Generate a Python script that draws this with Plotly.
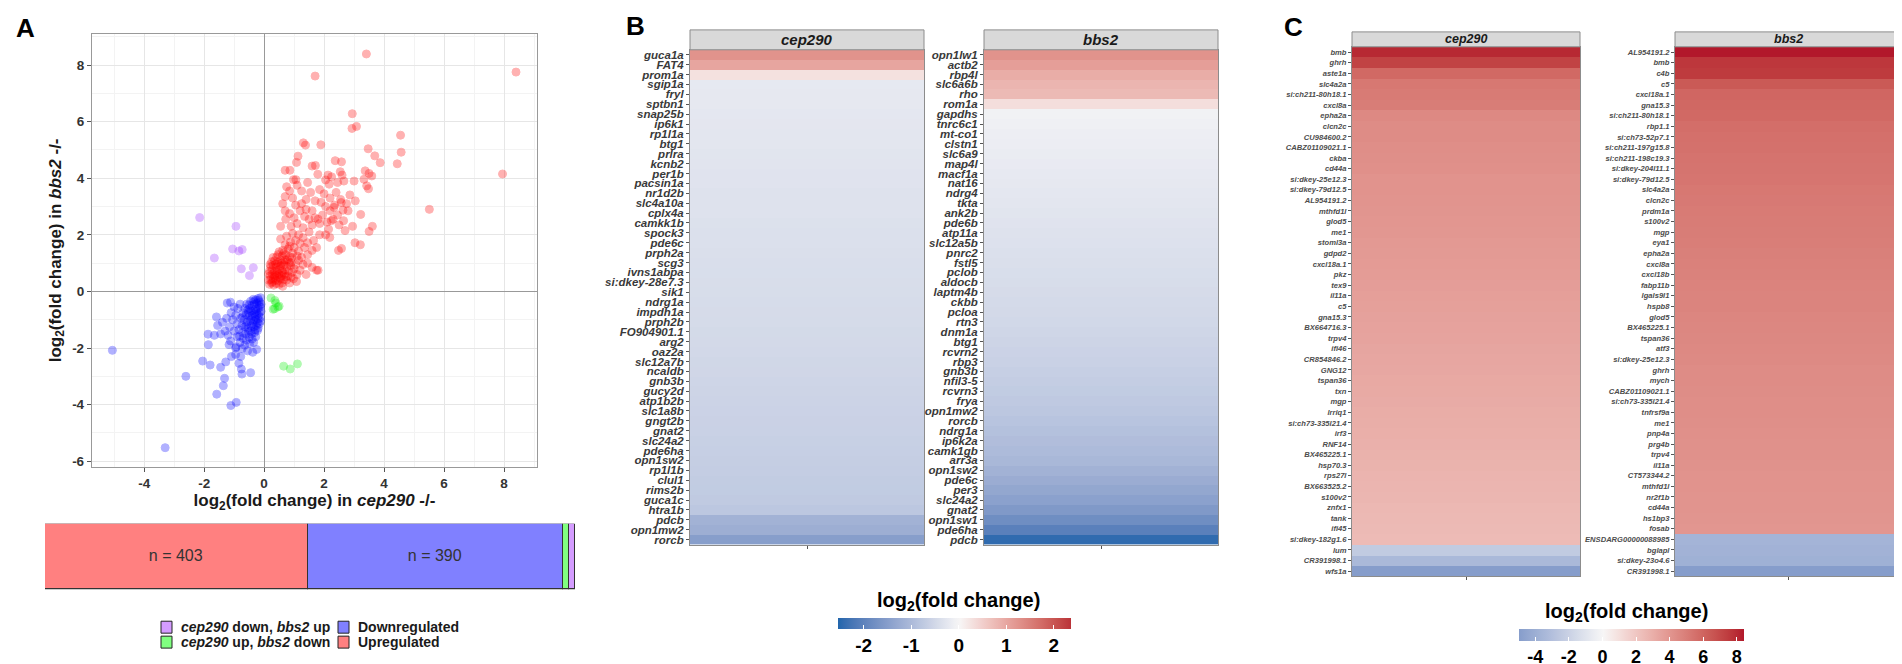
import plotly.graph_objects as go

W, H = 1902, 664
def X(px): return px / W
def Y(py): return 1 - py / H

# ---------------- Panel A data ----------------
up_pts = [
    (0.18,0.25),(0.25,0.30),(0.32,0.22),(0.40,0.28),(0.50,0.25),(0.60,0.30),(0.22,0.42),(0.30,0.45),(0.38,0.40),
    (0.46,0.38),(0.55,0.44),(0.65,0.42),(0.75,0.40),(0.20,0.55),(0.28,0.60),(0.35,0.58),(0.42,0.55),(0.50,0.60),
    (0.58,0.56),(0.68,0.60),(0.80,0.55),(0.90,0.50),(0.18,0.72),(0.26,0.75),(0.34,0.70),(0.43,0.74),(0.52,0.78),
    (0.60,0.72),(0.70,0.76),(0.82,0.72),(0.22,0.88),(0.30,0.92),(0.40,0.86),(0.48,0.95),(0.56,0.90),(0.66,0.94),
    (0.76,0.88),(0.88,0.92),(0.25,1.05),(0.35,1.08),(0.45,1.02),(0.55,1.10),(0.65,1.05),(0.78,1.12),(0.90,1.02),
    (0.30,1.20),(0.42,1.22),(0.60,1.25),(0.72,1.30),(0.85,1.22),(1.00,0.80),(1.05,0.95),(1.10,0.60),(0.98,0.45),
    (1.15,1.10),(0.95,1.35),(0.50,1.40),(0.62,1.45),(0.80,1.50),(1.00,1.55),(1.15,1.42),(1.25,1.20),(1.30,0.95),
    (1.20,0.75),(0.70,1.65),(0.88,1.75),(1.05,1.80),(1.20,1.70),(1.35,1.55),(1.45,1.30),(0.55,1.85),(0.75,1.95),
    (0.95,2.05),(1.15,2.00),(1.30,1.90),(1.40,0.60),(1.45,1.00),(0.62,0.18),(0.85,0.30),(1.08,0.35),(0.15,0.40),
    (0.15,0.62),(0.20,0.95),(0.28,0.35),(0.36,0.50),(0.44,0.66),(0.52,0.48),(0.62,0.66),(0.72,0.52),(0.94,0.68),
    (0.38,0.96),(0.58,1.00),(0.70,1.12),(0.84,1.02),(0.46,1.30),(0.66,1.36),(0.92,1.20),(1.10,1.25),(0.85,1.60),
    (1.60,0.85),(1.75,0.75),
    (0.55,2.30),(0.72,2.55),(0.90,2.30),(1.10,2.40),(1.30,2.25),(1.50,2.10),(1.65,1.80),(1.75,1.55),(1.45,1.72),
    (0.62,3.10),(0.70,2.85),(0.85,3.55),(0.95,3.30),(1.05,3.05),(1.20,2.85),(1.35,2.65),(1.50,2.55),(1.60,2.85),
    (1.70,3.20),(1.55,3.50),(1.40,3.25),(1.25,3.55),(1.10,3.75),(0.75,3.70),(0.70,3.35),(1.60,2.35),(1.80,2.55),
    (1.95,2.70),(2.10,2.45),(2.05,3.00),(1.90,3.15),(2.20,3.30),(2.35,3.05),(2.45,2.70),(2.30,2.55),(2.50,2.35),
    (2.05,2.00),(1.85,2.00),(2.40,3.50),(2.55,3.25),(2.75,3.10),(2.80,2.85),(2.65,2.50),(2.95,2.30),(2.70,2.15),
    (1.60,1.45),(0.85,2.75),(1.00,2.60),(1.25,3.10),(1.85,3.60),(2.00,3.45),(2.20,2.85),(2.15,2.20),(1.70,2.60),
    (1.40,2.90),(0.98,3.95),(1.45,3.85),(2.25,4.05),(2.45,3.85),
    (3.41,8.39),(1.70,7.61),(2.94,6.28),(2.93,5.76),(3.08,5.83),(4.55,5.52),(4.57,4.92),(4.44,4.51),(3.47,5.04),
    (3.69,4.79),(3.87,4.55),(1.31,5.25),(1.38,5.17),(1.89,5.18),(1.13,4.78),(1.08,4.56),(0.70,4.28),(0.86,4.28),
    (1.60,4.43),(1.71,4.45),(2.37,4.62),(2.58,4.58),(3.37,4.26),(3.50,4.17),(3.59,4.08),(3.33,3.96),(3.00,3.90),
    (1.06,3.95),(1.79,4.14),(2.13,4.11),(2.54,4.23),(2.60,4.11),(2.66,3.90),(2.05,3.94),(2.17,3.79),(3.42,3.73),
    (3.48,3.63),(2.86,3.41),(3.04,3.20),(5.51,2.90),(3.22,2.72),(3.61,2.30),(3.50,2.12),(3.03,1.72),(3.21,1.65),
    (2.48,1.45),(2.58,1.52),(1.80,0.75),(2.19,1.91),(1.85,2.40),(2.24,2.50),(2.33,2.97),(2.57,3.14),(2.63,2.87),
    (8.40,7.75),(7.95,4.15),
]
down_pts = [
    (-0.12,-0.22),(-0.20,-0.25),(-0.28,-0.30),(-0.36,-0.28),(-0.45,-0.35),(-0.15,-0.38),(-0.24,-0.42),(-0.32,-0.45),
    (-0.40,-0.50),(-0.50,-0.48),(-0.58,-0.45),(-0.12,-0.55),(-0.20,-0.60),(-0.28,-0.62),(-0.36,-0.66),(-0.44,-0.70),
    (-0.54,-0.65),(-0.64,-0.60),(-0.15,-0.75),(-0.24,-0.80),(-0.32,-0.78),(-0.40,-0.85),(-0.50,-0.88),(-0.60,-0.82),
    (-0.70,-0.75),(-0.12,-0.92),(-0.20,-0.98),(-0.28,-1.00),(-0.36,-1.05),(-0.46,-1.02),(-0.56,-1.08),(-0.66,-1.00),
    (-0.78,-0.95),(-0.16,-1.15),(-0.26,-1.20),(-0.34,-1.25),(-0.44,-1.22),(-0.54,-1.30),(-0.64,-1.25),(-0.74,-1.20),
    (-0.22,-1.38),(-0.32,-1.45),(-0.42,-1.50),(-0.52,-1.42),(-0.62,-1.50),(-0.72,-1.45),(-0.84,-1.35),(-0.28,-1.60),
    (-0.40,-1.68),(-0.50,-1.62),(-0.60,-1.72),(-0.70,-1.65),(-0.82,-1.58),(-0.35,-1.80),(-0.48,-1.85),(-0.65,-1.90),
    (-0.80,-1.80),(-0.90,-1.15),(-0.95,-0.85),(-0.88,-0.60),(-0.80,-0.45),(-1.00,-0.55),(-1.10,-0.75),(-1.05,-1.00),
    (-1.15,-1.25),(-1.00,-1.40),(-0.90,-1.60),(-1.20,-1.55),(-0.25,-2.05),(-0.38,-2.15),(-0.55,-2.10),(-0.18,-0.32),
    (-0.10,-0.45),(-0.10,-0.70),(-0.12,-1.05),(-0.30,-0.90),(-0.38,-1.15),(-0.48,-0.60),(-0.20,-1.30),(-0.60,-1.18),
    (-0.72,-0.90),(-1.25,-0.95),(-1.30,-1.40),(-0.95,-2.00),(-1.12,-1.75),(-0.78,-2.30),(-0.16,-0.50),(-0.26,-0.70),
    (-0.34,-0.36),(-0.42,-0.95),(-0.22,-1.10),(-0.30,-1.35),(-0.18,-0.85),(-0.52,-0.75),(-0.45,-1.40),
    (-5.06,-2.08),(-2.61,-3.00),(-2.05,-2.46),(-1.80,-2.60),(-1.87,-1.51),(-1.66,-1.55),(-1.86,-1.88),(-1.58,-3.63),
    (-1.36,-3.33),(-1.32,-3.07),(-1.11,-4.03),(-0.93,-3.92),(-1.45,-2.68),(-1.28,-2.49),(-1.09,-2.30),(-0.95,-2.23),
    (-0.76,-2.74),(-0.74,-2.92),(-0.45,-2.87),(-1.59,-0.90),(-1.39,-1.09),(-1.23,-0.41),(-1.12,-0.38),(-1.17,-1.88),
    (-0.93,-1.96),(-0.73,-2.02),(-0.84,-2.54),(-3.30,-5.52),(-1.45,-1.50),(-1.55,-1.20),
]
violet_pts = [(-2.15,2.61),(-0.94,2.30),(-1.05,1.50),(-0.84,1.43),(-0.73,1.48),(-1.66,1.18),(-0.76,0.80),(-0.36,0.84),(-0.49,0.56)]
green_pts = [(0.23,-0.23),(0.36,-0.32),(0.39,-0.41),(0.35,-0.61),(0.46,-0.55),(0.30,-0.63),(0.50,-0.52),(0.65,-2.64),(0.87,-2.74),(1.11,-2.56)]
scatter_ticks = [-6, -4, -2, 0, 2, 4, 6, 8]

count_labels = ["Upregulated", "Downregulated", "cep290 up, bbs2 down", "cep290 down, bbs2 up"]
count_values = [403, 390, 10, 9]

# ---------------- Panel B data ----------------
b_cep290_genes = ["guca1a","FAT4","prom1a","sgip1a","fryl","sptbn1","snap25b","ip6k1","rp1l1a","btg1","prlra","kcnb2",
    "per1b","pacsin1a","nr1d2b","slc4a10a","cplx4a","camkk1b","spock3","pde6c","prph2a","scg3","ivns1abpa",
    "si:dkey-28e7.3","sik1","ndrg1a","impdh1a","prph2b","FO904901.1","arg2","oaz2a","slc12a7b","ncaldb","gnb3b",
    "gucy2d","atp1b2b","slc1a8b","gngt2b","gnat2","slc24a2","pde6ha","opn1sw2","rp1l1b","clul1","rims2b","guca1c",
    "htra1b","pdcb","opn1mw2","rorcb"]
b_cep290_vals = [1.25,1.02,0.27,-0.23,-0.24,-0.24,-0.26,-0.27,-0.28,-0.28,-0.30,-0.31,-0.32,-0.32,-0.34,-0.35,-0.35,
    -0.37,-0.38,-0.38,-0.40,-0.41,-0.42,-0.43,-0.44,-0.45,-0.46,-0.47,-0.49,-0.50,-0.51,-0.53,-0.54,-0.56,-0.57,
    -0.59,-0.60,-0.62,-0.63,-0.65,-0.66,-0.68,-0.69,-0.71,-0.72,-0.74,-0.80,-1.15,-1.22,-1.50]
b_bbs2_genes = ["opn1lw1","actb2","rbp4l","slc6a6b","rho","rom1a","gapdhs","tnrc6c1","mt-co1","clstn1","slc6a9","map4l",
    "macf1a","nat16","ndrg4","tkta","ank2b","pde6b","atp11a","slc12a5b","pnrc2","fstl5","pclob","aldocb","laptm4b",
    "ckbb","pcloa","rtn3","dnm1a","btg1","rcvrn2","rbp3","gnb3b","nfil3-5","rcvrn3","frya","opn1mw2","rorcb","ndrg1a",
    "ip6k2a","camk1gb","arr3a","opn1sw2","pde6c","per3","slc24a2","gnat2","opn1sw1","pde6ha","pdcb"]
b_bbs2_vals = [1.25,1.10,0.92,0.82,0.76,0.30,-0.08,-0.12,-0.14,-0.16,-0.18,-0.20,-0.22,-0.24,-0.26,-0.28,-0.30,-0.32,
    -0.34,-0.36,-0.38,-0.40,-0.42,-0.44,-0.46,-0.48,-0.50,-0.52,-0.55,-0.58,-0.60,-0.63,-0.66,-0.69,-0.72,-0.76,-0.80,
    -0.85,-0.90,-0.95,-1.00,-1.05,-1.15,-1.25,-1.35,-1.45,-1.60,-1.80,-2.05,-2.45]
b_ticks = [-2, -1, 0, 1, 2]

# ---------------- Panel C data ----------------
c_cep290_genes = ["bmb","ghrh","aste1a","slc4a2a","si:ch211-80h18.1","cxcl8a","epha2a","clcn2c","CU984600.2",
    "CABZ01109021.1","ckba","cd44a","si:dkey-25e12.3","si:dkey-79d12.5","AL954191.2","mthfd1l","glod5","me1",
    "stoml3a","gdpd2","cxcl18a.1","pkz","tex9","il11a","c5","gna15.3","BX664716.3","trpv4","ifi46","CR854846.2",
    "GNG12","tspan36","txn","mgp","lrriq1","si:ch73-335l21.4","irf3","RNF14","BX465225.1","hsp70.3","rps27l",
    "BX663525.2","s100v2","znfx1","tank","ifi45","si:dkey-182g1.6","lum","CR391998.1","wfs1a"]
c_cep290_vals = [8.0,7.2,5.8,5.2,5.1,5.0,4.5,4.4,4.4,4.3,4.25,4.2,4.1,4.1,4.05,4.0,3.95,3.9,3.85,3.8,3.75,3.7,3.65,
    3.6,3.55,3.5,3.45,3.4,3.35,3.3,3.25,3.2,3.15,3.1,3.05,3.0,2.95,2.9,2.85,2.8,2.75,2.7,2.65,2.6,2.55,2.5,2.45,
    -2.4,-3.4,-5.0]
c_bbs2_genes = ["AL954191.2","bmb","c4b","c5","cxcl18a.1","gna15.3","si:ch211-80h18.1","rbp1.1","si:ch73-52p7.1",
    "si:ch211-197g15.8","si:ch211-198c19.3","si:dkey-204l11.1","si:dkey-79d12.5","slc4a2a","clcn2c","prdm1a",
    "s100v2","mgp","eya1","epha2a","cxcl8a","cxcl18b","fabp11b","lgals9l1","hspb8","glod5","BX465225.1","tspan36",
    "atf3","si:dkey-25e12.3","ghrh","mych","CABZ01109021.1","si:ch73-335l21.4","tnfrsf9a","me1","pnp4a","prg4b",
    "trpv4","il11a","CT573344.2","mthfd1l","nr2f1b","cd44a","hs1bp3","fosab","ENSDARG00000088985","bglapl",
    "si:dkey-23o4.6","CR391998.1"]
c_bbs2_vals = [8.4,7.6,7.5,6.4,5.9,5.85,5.8,5.6,5.5,5.45,5.4,5.35,5.3,5.2,5.15,5.1,5.05,5.0,4.95,4.9,4.85,4.8,4.75,
    4.7,4.7,4.65,4.6,4.55,4.5,4.45,4.4,4.38,4.35,4.3,4.28,4.25,4.2,4.18,4.15,4.12,4.1,4.08,4.05,4.03,4.0,3.98,
    -3.7,-3.8,-3.9,-5.0]
c_ticks = [-4, -2, 0, 2, 4, 6, 8]

# ---------------- colour helpers (ggplot gradient2-like, Lab interpolation) ----------------
def _hex(h):
    h = h.lstrip('#'); return [int(h[i:i+2], 16) for i in (0, 2, 4)]
def _lin(c):
    c /= 255.0
    return c / 12.92 if c <= 0.04045 else ((c + 0.055) / 1.055) ** 2.4
def _unlin(c):
    c = 12.92 * c if c <= 0.0031308 else 1.055 * c ** (1 / 2.4) - 0.055
    return max(0, min(255, round(c * 255)))
def _f(t): return t ** (1/3) if t > 0.008856 else 7.787 * t + 16 / 116
def _finv(t): return t ** 3 if t ** 3 > 0.008856 else (t - 16 / 116) / 7.787
def to_lab(h):
    r, g, b = [_lin(c) for c in _hex(h)]
    x = (0.4124*r + 0.3576*g + 0.1805*b) / 0.95047
    y = (0.2126*r + 0.7152*g + 0.0722*b)
    z = (0.0193*r + 0.1192*g + 0.9505*b) / 1.08883
    fx, fy, fz = _f(x), _f(y), _f(z)
    return (116*fy - 16, 500*(fx - fy), 200*(fy - fz))
def from_lab(L, a, b):
    fy = (L + 16) / 116; fx = fy + a / 500; fz = fy - b / 200
    x, y, z = _finv(fx) * 0.95047, _finv(fy), _finv(fz) * 1.08883
    r = 3.2406*x - 1.5372*y - 0.4986*z
    g = -0.9689*x + 1.8758*y + 0.0415*z
    bb = 0.0557*x - 0.2040*y + 1.0570*z
    return 'rgb(%d,%d,%d)' % (_unlin(r), _unlin(g), _unlin(bb))
LOW, MID, HIGH = to_lab('#2166AC'), to_lab('#F7F7F7'), to_lab('#B2182B')
def grad(t):
    if t < 0.5:
        s = (0.5 - t) / 0.5; A, B = MID, LOW
    else:
        s = (t - 0.5) / 0.5; A, B = MID, HIGH
    return from_lab(*[A[i] + (B[i] - A[i]) * s for i in range(3)])
def colorscale(zmin, zmax, n=40):
    m = max(abs(zmin), abs(zmax))
    out = []
    for i in range(n + 1):
        p = i / n; v = zmin + p * (zmax - zmin)
        out.append([p, grad(0.5 + v / (2 * m))])
    return out
def hyph(vals): return [str(v).replace('\u2212', '-') for v in vals]

B_ZMIN, B_ZMAX = -2.55, 2.35
C_ZMIN, C_ZMAX = -5.0, 8.4
csB = colorscale(B_ZMIN, B_ZMAX)
csC = colorscale(C_ZMIN, C_ZMAX)

FONT = "Liberation Sans, Arial, sans-serif"
fig = go.Figure()

# ---------------- Panel A scatter ----------------
def add_pts(pts, color):
    fig.add_trace(go.Scatter(x=[p[0] for p in pts], y=[p[1] for p in pts], mode='markers',
        marker=dict(size=8, color=color, opacity=0.3, line=dict(color=color, width=1)),
        xaxis='x', yaxis='y', showlegend=False, hoverinfo='skip'))
add_pts(up_pts, '#ff0000')
add_pts(down_pts, '#0000ff')
add_pts(violet_pts, '#9b30ff')
add_pts(green_pts, '#00ee00')

# ---------------- Panel A bar ----------------
bar_colors = ['#ff8080', '#8080ff', '#80ff80', '#d49cff']
for i, (lab, val, col) in enumerate(zip(count_labels, count_values, bar_colors)):
    kw = {}
    if i < 2:
        kw = dict(text=['n = %d' % val], textposition='inside', insidetextanchor='middle',
                  textfont=dict(size=16, color='#333333', family=FONT))
    fig.add_trace(go.Bar(x=[val], y=[0], orientation='h', width=1,
        marker=dict(color=col, line=dict(color='#333333', width=1.5)),
        xaxis='x2', yaxis='y2', showlegend=False, name=lab, hoverinfo='skip', **kw))

# ---------------- Heatmaps ----------------
def add_heat(genes, vals, ax, cs, zmin, zmax, cb=None):
    fig.add_trace(go.Heatmap(z=[[v] for v in vals], x=[0], y=genes, colorscale=cs, zmin=zmin, zmax=zmax,
        showscale=cb is not None, colorbar=cb, xaxis='x' + ax, yaxis='y' + ax, hoverinfo='skip'))

cbB = dict(orientation='h', x=X(946), xanchor='center', y=Y(613), yanchor='top', len=233, lenmode='pixels',
           thickness=11, thicknessmode='pixels', outlinewidth=0, ticks='inside', ticklen=4, tickcolor='white',
           tickvals=b_ticks, ticktext=hyph(b_ticks),
           tickfont=dict(size=19, color='black', weight='bold', family=FONT), xpad=0, ypad=0)
cbC = dict(orientation='h', x=X(1623), xanchor='center', y=Y(624), yanchor='top', len=225, lenmode='pixels',
           thickness=12, thicknessmode='pixels', outlinewidth=0, ticks='inside', ticklen=4, tickcolor='white',
           tickvals=c_ticks, ticktext=hyph(c_ticks),
           tickfont=dict(size=18, color='black', weight='bold', family=FONT), xpad=0, ypad=0)

add_heat(b_cep290_genes, b_cep290_vals, '3', csB, B_ZMIN, B_ZMAX)
add_heat(b_bbs2_genes, b_bbs2_vals, '4', csB, B_ZMIN, B_ZMAX, cbB)
add_heat(c_cep290_genes, c_cep290_vals, '5', csC, C_ZMIN, C_ZMAX)
add_heat(c_bbs2_genes, c_bbs2_vals, '6', csC, C_ZMIN, C_ZMAX, cbC)

# ---------------- layout ----------------
tickA = dict(size=13.5, color='#333333', weight='bold', family=FONT)
def scatter_axis(domain, rng, anchor, title, standoff):
    return dict(domain=domain, range=rng, anchor=anchor, tickmode='array', tickvals=scatter_ticks,
                ticktext=hyph(scatter_ticks), ticks='outside', ticklen=4,
                tickcolor='#555', tickfont=tickA, showgrid=True, gridcolor='#e6e6e6', gridwidth=1,
                minor=dict(tickmode='linear', tick0=0, dtick=1, showgrid=True, gridcolor='#f3f3f3', gridwidth=1, ticks=''),
                zeroline=True, zerolinecolor='#999999', zerolinewidth=1.3, showline=True, mirror=True,
                linecolor='#999999', linewidth=1.3,
                title=dict(text=title, standoff=standoff, font=dict(size=17, color='#1a1a1a', weight='bold', family=FONT)))

layout = dict(
    width=W, height=H, margin=dict(l=0, r=0, t=0, b=0), template='none', autosize=False,
    paper_bgcolor='white', plot_bgcolor='white', font=dict(family=FONT), barmode='stack', bargap=0,
    xaxis=scatter_axis([X(84), X(529)], [-5.74, 9.1], 'y', 'log<sub>2</sub>(fold change) in <i>cep290</i> -/-', 2),
    yaxis=scatter_axis([Y(461), Y(26)], [-6.2, 9.1], 'x', 'log<sub>2</sub>(fold change) in <i>bbs2</i> -/-', 6),
    xaxis2=dict(domain=[X(37), X(567)], range=[0, sum(count_values)], anchor='y2', visible=False),
    yaxis2=dict(domain=[Y(584), Y(518)], range=[-0.5, 0.5], anchor='x2', visible=False),
)

def heat_axes(xd, yd, genes, anchor_x, anchor_y, fsize, fcolor):
    xa = dict(domain=xd, range=[-0.5, 0.5], anchor=anchor_y, tickvals=[0], showticklabels=False, ticks='outside',
              ticklen=3, tickcolor='#555', showgrid=False, zeroline=False, showline=True, mirror=True,
              linecolor='#8c8c8c', linewidth=1)
    ya = dict(domain=yd, type='category', categoryorder='array', categoryarray=genes, autorange='reversed',
              tickmode='array', tickvals=genes, ticktext=genes, ticks='outside', ticklen=3, tickcolor='#555',
              tickfont=dict(size=fsize, color=fcolor, weight='bold', style='italic', family=FONT),
              anchor=anchor_x, showgrid=False, zeroline=False, showline=True, mirror=True, linecolor='#8c8c8c', linewidth=1)
    return xa, ya

layout['xaxis3'], layout['yaxis3'] = heat_axes([X(682), X(916)], [Y(539), Y(42)], b_cep290_genes, 'x3', 'y3', 11.5, '#3a3a3a')
layout['xaxis4'], layout['yaxis4'] = heat_axes([X(976), X(1210)], [Y(539), Y(42)], b_bbs2_genes, 'x4', 'y4', 11.5, '#3a3a3a')
layout['xaxis5'], layout['yaxis5'] = heat_axes([X(1344), X(1572)], [Y(571), Y(39)], c_cep290_genes, 'x5', 'y5', 7.6, '#4d4d4d')
layout['xaxis6'], layout['yaxis6'] = heat_axes([X(1667), X(1894)], [Y(571), Y(39)], c_bbs2_genes, 'x6', 'y6', 7.6, '#4d4d4d')

shapes, annos = [], []
def strip(x0, x1, y0, y1, text, size):
    shapes.append(dict(type='rect', xref='paper', yref='paper', x0=X(x0), x1=X(x1), y0=Y(y1), y1=Y(y0),
                       fillcolor='#d9d9d9', line=dict(color='#8c8c8c', width=1)))
    annos.append(dict(xref='paper', yref='paper', x=X((x0 + x1) / 2), y=Y((y0 + y1) / 2), text='<i>%s</i>' % text,
                      showarrow=False, xanchor='center', yanchor='middle',
                      font=dict(size=size, color='#1a1a1a', weight='bold', family=FONT)))
strip(682, 916, 22, 42, 'cep290', 15)
strip(976, 1210, 22, 42, 'bbs2', 15)
strip(1344, 1572, 24, 39, 'cep290', 12.5)
strip(1667, 1894, 24, 39, 'bbs2', 12.5)

def txt(x, y, s, size, xanchor='center', weight='bold', color='black'):
    annos.append(dict(xref='paper', yref='paper', x=X(x), y=Y(y), text=s, showarrow=False, xanchor=xanchor,
                      yanchor='middle', font=dict(size=size, color=color, weight=weight, family=FONT)))
txt(17, 20, 'A', 26)
txt(627, 18, 'B', 26)
txt(1285, 19, 'C', 26)
txt(950, 596, 'log<sub>2</sub>(fold change)', 20)
txt(1618, 607, 'log<sub>2</sub>(fold change)', 20)

# legend of panel A
leg = [(153, 622, bar_colors[3], '<i>cep290</i> down, <i>bbs2</i> up'),
       (153, 637, bar_colors[2], '<i>cep290</i> up, <i>bbs2</i> down'),
       (330, 622, bar_colors[1], 'Downregulated'),
       (330, 637, bar_colors[0], 'Upregulated')]
for lx, ly, col, s in leg:
    shapes.append(dict(type='rect', xref='paper', yref='paper', x0=X(lx), x1=X(lx + 11), y0=Y(ly + 6), y1=Y(ly - 6),
                       fillcolor=col, line=dict(color='#222222', width=1)))
    txt(lx + 18, ly, s, 14, xanchor='left', color='#1a1a1a')

layout['shapes'] = shapes
layout['annotations'] = annos
fig.update_layout(**layout)
fig.write_html("out.html")
